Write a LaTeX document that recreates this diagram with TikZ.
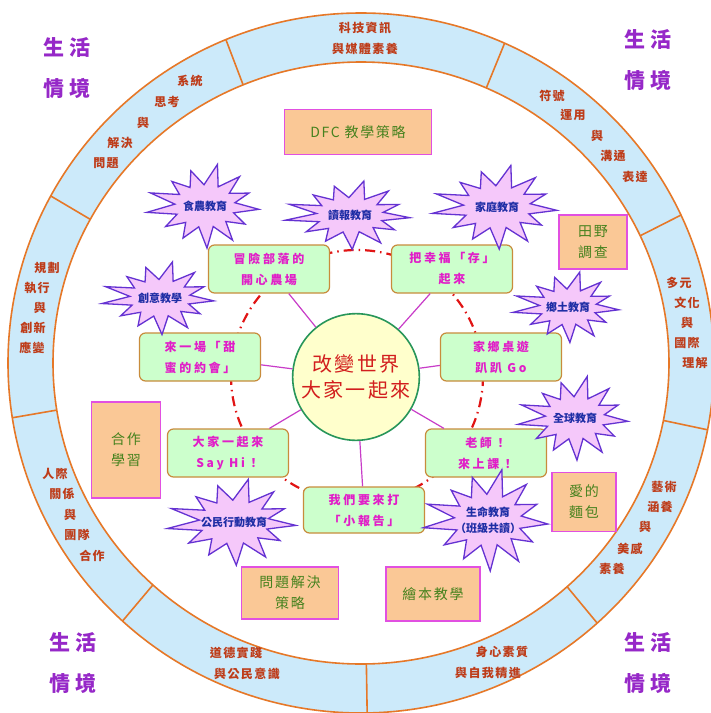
\documentclass[tikz,border=0pt]{standalone}
\usepackage{fontspec}
\setmainfont{Noto Sans CJK TC}
\newfontfamily\ringfont[LetterSpace=12]{Noto Sans CJK TC}
\newfontfamily\wideFont[LetterSpace=22]{Noto Sans CJK TC}
\usetikzlibrary{calc, positioning}
\definecolor{ringBlue}{RGB}{204,234,250}
\definecolor{ringLine}{RGB}{230,120,40}
\definecolor{ringText}{RGB}{190,60,25}
\definecolor{ctxPurple}{RGB}{150,40,200}
\definecolor{hubFill}{RGB}{255,255,204}
\definecolor{hubLine}{RGB}{40,150,90}
\definecolor{hubText}{RGB}{210,30,30}
\definecolor{actFill}{RGB}{204,255,204}
\definecolor{actLine}{RGB}{200,140,60}
\definecolor{actText}{RGB}{225,30,200}
\definecolor{spokeCol}{RGB}{200,60,200}
\definecolor{linkRed}{RGB}{225,20,20}
\definecolor{burstFill}{RGB}{245,200,250}
\definecolor{burstLine}{RGB}{100,50,210}
\definecolor{burstText}{RGB}{30,45,165}
\definecolor{planFill}{RGB}{250,200,150}
\definecolor{planLine}{RGB}{225,80,225}
\definecolor{planText}{RGB}{70,130,30}
\tikzset{
    ringTxt/.style={text=ringText, inner sep=0pt, align=center, font={\ringfont\bfseries\fontsize{12}{21}\selectfont}},
    ctxTxt/.style={text=ctxPurple, inner sep=0pt, align=center, font={\wideFont\bfseries\fontsize{21}{41}\selectfont}},
    ringLn/.style={draw=ringLine, line width=1.6pt},
    hub/.style={circle, draw=hubLine, line width=1.6pt, fill=hubFill, minimum size=122pt, text=hubText, align=center, font={\ringfont\fontsize{20}{26}\selectfont}},
    act/.style={rectangle, rounded corners=6pt, draw=actLine, line width=1.2pt, fill=actFill, minimum width=121pt, minimum height=48pt, text=actText, align=center, font={\wideFont\bfseries\fontsize{12}{21}\selectfont}},
    plan/.style={rectangle, draw=planLine, line width=1.5pt, fill=planFill, text=planText, align=center, font={\ringfont\fontsize{14}{21}\selectfont}},
    burstLn/.style={draw=burstLine, fill=burstFill, line width=1.3pt},
    burstTxt/.style={text=burstText, inner sep=0pt, align=center, font={\bfseries\fontsize{11}{16}\selectfont}},
    spokeLn/.style={draw=spokeCol, line width=1.2pt},
    linkLn/.style={draw=linkRed, line width=2.2pt, dash pattern=on 10pt off 5pt on 1.5pt off 5pt},
}
% starburst: name, position, x radius, y radius, text
\newcommand{\drawBurst}[5]{
    \begin{scope}[shift={(#2)}]
        \draw[burstLn] plot[samples at={0,...,25}, variable=\k]
            ({#3*(mod(\k,2)==0 ? 1+0.12*sin(\k*131) : 0.56)*cos(360/26*\k+5)},
             {#4*(mod(\k,2)==0 ? 1+0.12*sin(\k*131) : 0.56)*sin(360/26*\k+5)}) -- cycle;
    \end{scope}
    \node[burstTxt] (#1) at (#2) {#5};
}
\begin{document}
\begin{tikzpicture}[x=1pt, y=-1pt]
    \fill[white] (0,0) rectangle (711,713);
    \useasboundingbox (0,0) rectangle (711,713);

    % outer ring
    \coordinate (ringC) at (361,363);
    \fill[ringBlue, even odd rule] (ringC) ellipse [x radius=353, y radius=350] (ringC) ellipse [x radius=308, y radius=301];
    \draw[ringLn] (ringC) ellipse [x radius=353, y radius=350];
    \draw[ringLn] (ringC) ellipse [x radius=308, y radius=301];
    \foreach \a in {-112.5,-66,-25,11,48,89,-227.5,-189,-151.5}
        \draw[ringLn] ($(ringC)+({308*cos(\a)},{301*sin(\a)})$) -- ($(ringC)+({353*cos(\a)},{350*sin(\a)})$);

    % ring texts
    \node[ringTxt] (media) at (365,38) {科技資訊\\與媒體素養};
    \node[ringTxt] (moral) at (236,663) {道德實踐\\\hspace*{22pt}與公民意識};
    \node[ringTxt] (self) at (488,662) {\hspace*{28pt}身心素質\\與自我精進};
    \foreach \t/\x/\y [count=\i] in {符號/552/96, 運用/573/115, 與/597/136, 溝通/613/156, 表達/635/177}
        \node[ringTxt] (sym\i) at (\x,\y) {\t};
    \foreach \t/\x/\y [count=\i] in {多元/679/283, 文化/687/303, 與/687/323, 國際/687/343, 理解/695/363}
        \node[ringTxt] (multi\i) at (\x,\y) {\t};
    \foreach \t/\x/\y [count=\i] in {藝術/664/487, 涵養/660/507, 與/645/527, 美感/630/549, 素養/612/569}
        \node[ringTxt] (art\i) at (\x,\y) {\t};
    \foreach \t/\x/\y [count=\i] in {人際/55/474, 關係/62/494, 與/70/515, 團隊/77/535, 合作/92/556}
        \node[ringTxt] (team\i) at (\x,\y) {\t};
    \foreach \t/\x/\y [count=\i] in {規劃/47/268, 執行/37/288, 與/40/308, 創新/33/328, 應變/32/348}
        \node[ringTxt] (plan\i) at (\x,\y) {\t};
    \foreach \t/\x/\y [count=\i] in {系統/190/81, 思考/167/102, 與/143/123, 解決/120/143, 問題/106/163}
        \node[ringTxt] (sys\i) at (\x,\y) {\t};

    % corner labels
    \node[ctxTxt] (ctxTL) at (67,68) {生活\\情境};
    \node[ctxTxt] (ctxTR) at (648,60) {生活\\情境};
    \node[ctxTxt] (ctxBL) at (73,663) {生活\\情境};
    \node[ctxTxt] (ctxBR) at (648,663) {生活\\情境};

    % dash-dot link ring
    \coordinate (linkC) at (357,376);
    \draw[linkLn] (linkC) circle [radius=126];

    % hub and activities
    \node[hub] (hub) at (356,377) {改變世界\\大家一起來};
    \node[act] (farm) at (269,269) {冒險部落的\\開心農場};
    \node[act] (savings) at (452,269) {把幸福「存」\\起來};
    \node[act] (date) at (200,357) {來一場「甜\\蜜的約會」};
    \node[act] (boardgame) at (501,357) {家鄉桌遊\\趴趴 Go};
    \node[act] (sayhi) at (228,453) {大家一起來\\Say Hi！};
    \node[act] (teacher) at (486,453) {老師！\\來上課！};
    \node[act, minimum height=46pt] (report) at (364,510) {我們要來打\\「小報告」};
    \foreach \b in {farm, savings, date, boardgame, sayhi, teacher, report}
        \draw[spokeLn] (hub) -- (\b);

    % strategies
    \node[plan, minimum width=147pt, minimum height=45pt] (dfc) at (358,132) {DFC 教學策略};
    \node[plan, minimum width=68pt, minimum height=54pt] (field) at (593,242) {田野\\調查};
    \node[plan, minimum width=69pt, minimum height=96pt] (coop) at (126,450) {合作\\學習};
    \node[plan, minimum width=64pt, minimum height=59pt] (bread) at (584,502) {愛的\\麵包};
    \node[plan, minimum width=97pt, minimum height=52pt] (solve) at (290,593) {問題解決\\策略};
    \node[plan, minimum width=94pt, minimum height=54pt] (picbook) at (433,594) {繪本教學};

    % education bursts
    \drawBurst{food}{205,206}{54}{38}{食農教育}
    \drawBurst{news}{350,215}{60}{31}{讀報教育}
    \drawBurst{family}{497,207}{60}{38}{家庭教育}
    \drawBurst{creative}{160,298}{54}{33}{創意教學}
    \drawBurst{local}{568,307}{51}{32}{鄉土教育}
    \drawBurst{global}{575,418}{53}{38}{全球教育}
    \drawBurst{civic}{234,522}{62}{39}{公民行動教育}
    \drawBurst{life}{488,520}{60}{46}{生命教育\\（班級共讀）}
\end{tikzpicture}
\end{document}
